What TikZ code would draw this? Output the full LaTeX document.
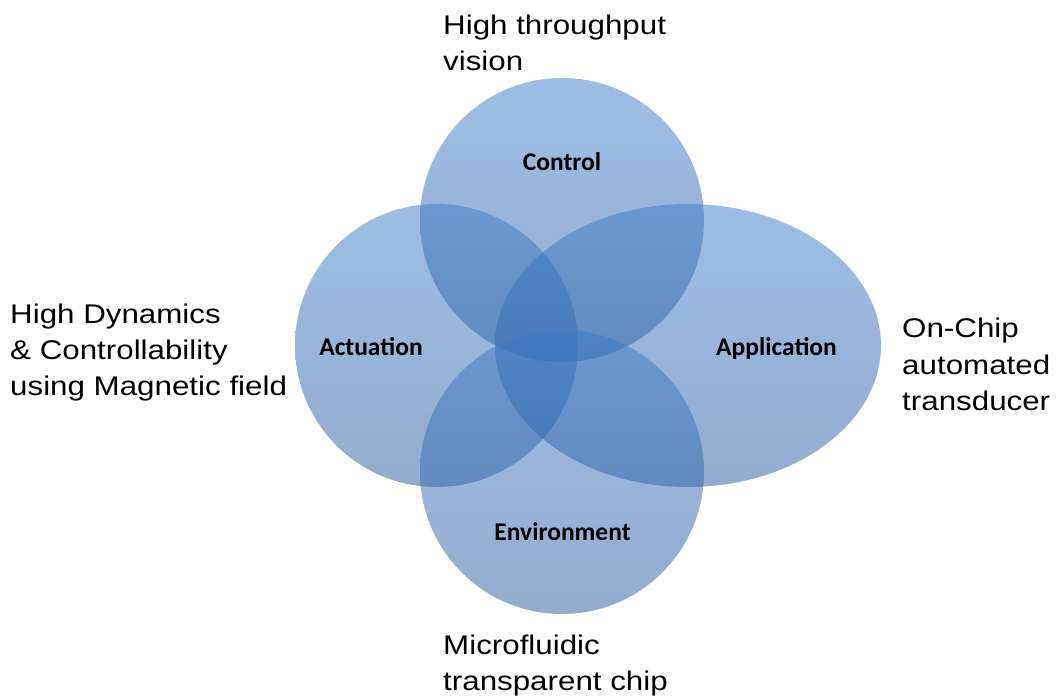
\documentclass[tikz,border=0pt]{standalone}
\usepackage{fontspec}
\setmainfont{Liberation Sans}
\newfontfamily\outfont[FakeStretch=1.16]{Liberation Sans}
\newfontfamily\labfont{Carlito}
\usetikzlibrary{shapes.geometric}
\definecolor{topblue}{RGB}{59,125,201}
\definecolor{botblue}{RGB}{41,89,157}
\tikzset{
  blob/.style={top color=topblue, bottom color=botblue, fill opacity=0.5, draw=none},
  inlabel/.style={anchor=base, inner sep=0pt, font=\labfont\bfseries\fontsize{25.5}{30}\selectfont, text=black},
  outlabel/.style={anchor=base west, inner sep=0pt, font=\outfont\fontsize{27}{33}\selectfont, text=black}
}
\begin{document}
\begin{tikzpicture}[x=1pt,y=-1pt]
\useasboundingbox (0,0) rectangle (1056,700);
% shapes
\shade[blob] (562,220) circle [radius=142];
\shade[blob] (436.5,345.5) circle [radius=141.5];
\shade[blob] (688,345.5) ellipse [x radius=193, y radius=141.5];
\shade[blob] (562,472) circle [radius=142];
% inner labels
\node[inlabel] (control) at (562,171) {Control};
\node[inlabel] (actuation) at (371,355.7) {Actuation};
\node[inlabel] (application) at (776.5,355.7) {Application};
\node[inlabel] (environment) at (562.5,540) {Environment};
% outer labels
\node[outlabel] (t1) at (443,34.3) {High throughput};
\node[outlabel] (t2) at (443,71) {vision};
\node[outlabel] (l1) at (10,323.5) {High Dynamics};
\node[outlabel] (l2) at (10,359.5) {\& Controllability};
\node[outlabel] (l3) at (10,395.5) {using Magnetic field};
\node[outlabel] (r1) at (902,337.3) {On-Chip};
\node[outlabel] (r2) at (902,374) {automated};
\node[outlabel] (r3) at (902,410) {transducer};
\node[outlabel] (b1) at (443,654.3) {Microfluidic};
\node[outlabel] (b2) at (443,690) {transparent chip};
\end{tikzpicture}
\end{document}
